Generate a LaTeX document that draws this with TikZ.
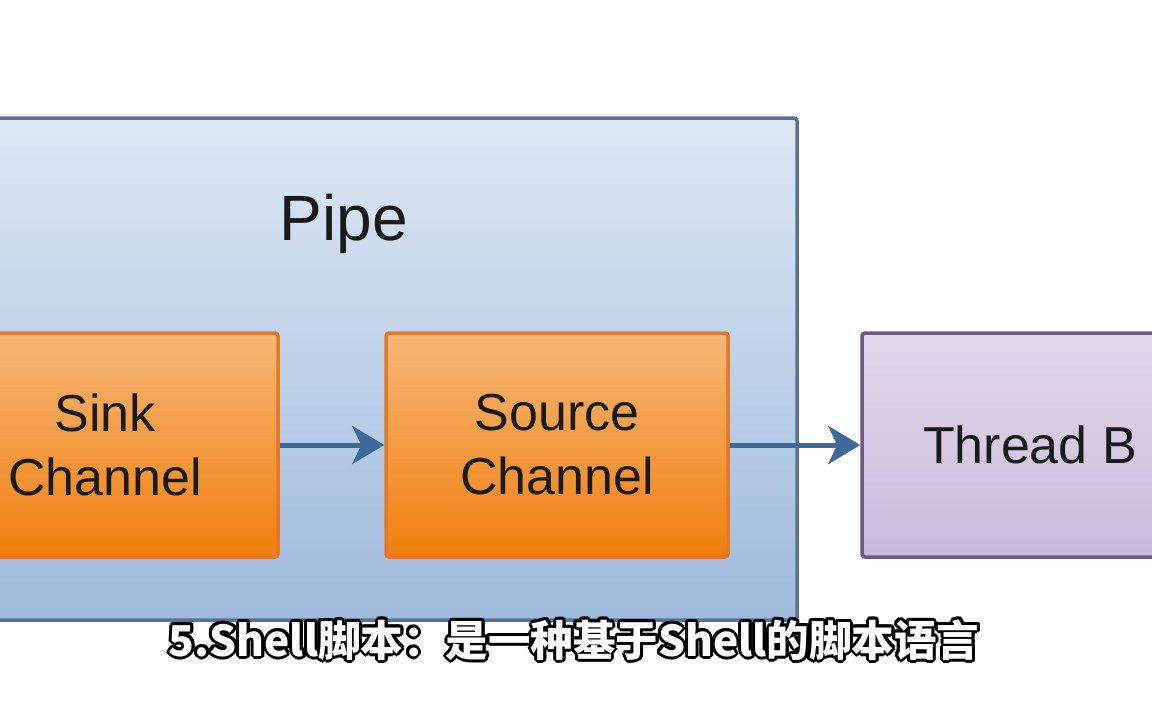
\documentclass[tikz,border=0pt]{standalone}
\usepackage{fontspec}
\usetikzlibrary{arrows.meta,calc}
\newfontfamily\diagfont{Liberation Sans}
\newfontfamily\subfont{Noto Sans CJK SC}
\definecolor{pipetop}{HTML}{DDE8F4}
\definecolor{pipebot}{HTML}{9FBADB}
\definecolor{pipeline}{HTML}{5B7196}
\definecolor{chantop}{HTML}{F6B777}
\definecolor{chanbot}{HTML}{F07F0E}
\definecolor{chanline}{HTML}{E3782A}
\definecolor{threadtop}{HTML}{E2D9EC}
\definecolor{threadbot}{HTML}{C9BADB}
\definecolor{threadline}{HTML}{6F5A86}
\definecolor{flowcol}{HTML}{3D6A99}
\definecolor{inkcol}{HTML}{1A1A1A}
\tikzset{
  box/.style={rounded corners=3pt, line width=3.5pt, inner sep=0pt, align=center,
    text=inkcol, font=\diagfont\fontsize{52}{64}\selectfont},
  pipebox/.style={box, draw=pipeline, top color=pipetop, bottom color=pipebot,
    minimum width=897pt, minimum height=502pt},
  chanbox/.style={box, draw=chanline, top color=chantop, bottom color=chanbot,
    minimum height=224pt},
  threadbox/.style={box, draw=threadline, top color=threadtop, bottom color=threadbot,
    minimum width=336pt, minimum height=224pt},
  flow/.style={draw=flowcol, line width=5pt, -{Stealth[length=32pt,width=38pt,inset=9pt]}},
  subtitle/.style={font=\subfont\bfseries\fontsize{42.5}{48}\selectfont}
}
\begin{document}
\begin{tikzpicture}[x=1pt, y=-1pt]
      \fill[white] (0,0) rectangle (1152,720);
      \useasboundingbox (0,0) rectangle (1152,720);
      \clip (0,0) rectangle (1152,720);
      \node[pipebox] (pipe) at (348.5,369) {};
      \node[font=\diagfont\fontsize{64}{72}\selectfont, text=inkcol] (pipelabel) at (344,224) {Pipe};
      \node[chanbox, minimum width=346pt] (sink) at (105,445) {Sink\\Channel};
      \node[chanbox, minimum width=342pt] (source) at (557,445) {Source\\Channel};
      \node[threadbox] (thread) at (1030,445) {Thread B};
      \begin{scope}[flow]
        \draw (sink) -- (source);
        \draw (source) -- (thread);
      \end{scope}
      \foreach \a in {0,30,...,330}
        \node[subtitle, text=black] (shade\a) at ($(574,640)+(\a:3pt)$) {5.Shell脚本：是一种基于Shell的脚本语言};
      \node[subtitle, text=white] (caption) at (574,640) {5.Shell脚本：是一种基于Shell的脚本语言};
    \end{tikzpicture}
\end{document}
